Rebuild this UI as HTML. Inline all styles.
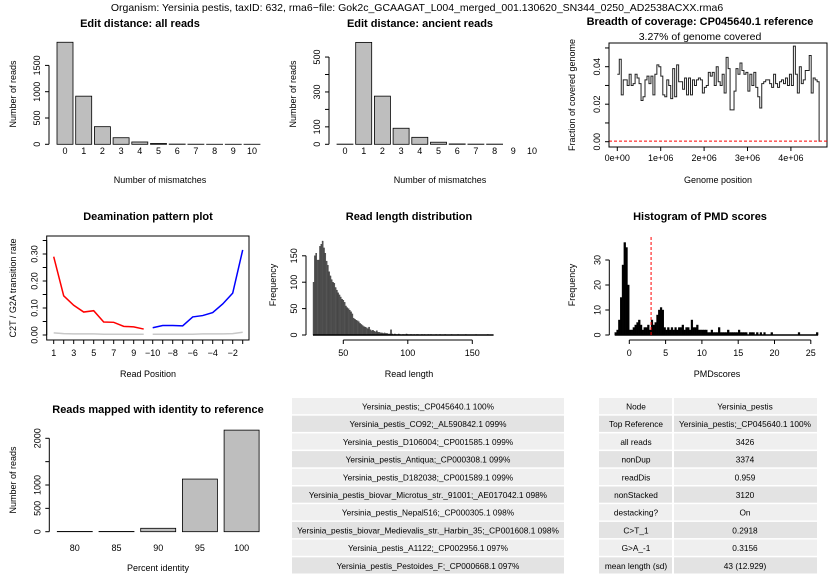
<!DOCTYPE html>
<html><head><meta charset="utf-8"><style>
body{margin:0;background:#fff;}
svg{display:block;font-family:"Liberation Sans",Arial,sans-serif;}
</style></head><body>
<svg id="chart" width="835" height="583" viewBox="0 0 835 583" xmlns="http://www.w3.org/2000/svg">
<rect x="0" y="0" width="835" height="583" fill="#fff"/>
<text x="417" y="11" font-size="10.5" text-anchor="middle" fill="#000">Organism: Yersinia pestis, taxID: 632, rma6−file: Gok2c_GCAAGAT_L004_merged_001.130620_SN344_0250_AD2538ACXX.rma6</text>
</svg>
<script>
// ---------- data ----------
const editAllCats = [0,1,2,3,4,5,6,7,8,9,10];
const editAllVals = [1940,915,335,125,44,15,4,2,1,1,1];
const editAllTicks = [0,500,1000,1500];
const editAncVals = [1,584,276,92,40,12,2,1,1,0,0];
const editAncTicks = [0,100,200,300,400,500];
const editAncLabels = [0,100,300,500];
const covVals = [0.036,0.044,0.025,0.033,0.033,0.030,0.036,0.030,0.031,0.036,0.034,0.031,0.022,0.024,0.033,0.035,0.031,0.035,0.025,0.036,0.041,0.040,0.035,0.025,0.024,0.033,0.030,0.023,0.039,0.024,0.041,0.032,0.032,0.028,0.034,0.025,0.034,0.025,0.033,0.030,0.033,0.034,0.033,0.026,0.029,0.030,0.037,0.035,0.037,0.030,0.040,0.032,0.030,0.036,0.026,0.045,0.039,0.017,0.017,0.027,0.039,0.036,0.042,0.038,0.036,0.037,0.027,0.036,0.030,0.037,0.029,0.024,0.018,0.031,0.032,0.033,0.033,0.031,0.029,0.036,0.031,0.029,0.032,0.033,0.031,0.034,0.030,0.036,0.030,0.051,0.036,0.026,0.040,0.031,0.033,0.038,0.038,0.046,0.026,0.034,0.033,0.032,0.000];
const covGenomeLen = 4650000;
const covXTicks = [0,1e6,2e6,3e6,4e6];
const covXLabels = ["0e+00","1e+06","2e+06","3e+06","4e+06"];
const covYTicks = [0,0.01,0.02,0.03,0.04,0.05];
const covYLabels = ["0.00","","0.02","","0.04",""];
const deamC2T = [0.29,0.145,0.11,0.085,0.09,0.048,0.047,0.032,0.030,0.022];
const deamG2A = [0.027,0.035,0.035,0.034,0.067,0.072,0.083,0.115,0.155,0.315];
const deamOtherF = [0.008,0.005,0.004,0.004,0.004,0.003,0.003,0.003,0.003,0.003];
const deamOtherR = [0.003,0.003,0.003,0.003,0.003,0.004,0.004,0.004,0.005,0.010];
const deamYTicks = [0,0.05,0.10,0.15,0.20,0.25,0.30,0.35];
const deamYLabels = ["0.00","","0.10","","0.20","","0.30",""];
const deamXLabels = ["1","","3","","5","","7","","9","","−10","","−8","","−6","","−4","","−2",""];
const rlStart = 27;
const rlCounts = [100,150,155,142,142,168,172,178,165,155,140,132,120,112,105,100,98,90,85,80,76,72,68,66,62,55,52,50,47,44,40,32,30,28,27,25,22,20,18,16,15,14,12,15,10,8,9,7,6,8,5,5,4,4,3,4,3,3,2,2,10,2,1,2,1,1,2,1,0,1,1,0,2,1,0,1,1,0,1,0,1,1,0,0,1,0,1,0,0,1,0,1,0,0,0,1,0,0,1,0,0,0,1,0,0,0,0,1,0,0,0,0,1,0,0,0,0,0,1,0,0,0,0,0,0,0,1,0,0,0,0,0,0,0,0,1,0,0,0,0];
const rlXTicks = [50,100,150];
const rlYTicks = [0,50,100,150];
const pmdStart = -2, pmdBin = 0.25;
const pmdCounts = [1,2,6,15,28,37,35,20,2,2,3,4,5,6,4,2,3,3,4,2,6,4,5,8,10,11,10,3,2,3,2,3,2,3,2,3,3,4,2,3,3,2,6,3,3,4,2,2,2,2,2,1,1,2,1,1,1,3,1,1,1,1,2,1,1,1,1,1,2,1,1,1,1,0,1,1,1,0,1,0,1,0,1,0,0,0,1,0,0,0,0,0,0,0,0,0,0,0,0,0,0,1,0,0,0,0,0,0,0,0,0,1];
const pmdXTicks = [0,5,10,15,20,25];
const pmdYTicks = [0,10,20,30];
const pmdThreshold = 3;
const idCats = [80,85,90,95,100];
const idVals = [5,5,73,1127,2175];
const idYTicks = [0,500,1000,1500,2000];
const idYLabels = ["0","500","1000","","2000"];
const refRows = ["Yersinia_pestis;_CP045640.1 100%","Yersinia_pestis_CO92;_AL590842.1 099%","Yersinia_pestis_D106004;_CP001585.1 099%","Yersinia_pestis_Antiqua;_CP000308.1 099%","Yersinia_pestis_D182038;_CP001589.1 099%","Yersinia_pestis_biovar_Microtus_str._91001;_AE017042.1 098%","Yersinia_pestis_Nepal516;_CP000305.1 098%","Yersinia_pestis_biovar_Medievalis_str._Harbin_35;_CP001608.1 098%","Yersinia_pestis_A1122;_CP002956.1 097%","Yersinia_pestis_Pestoides_F;_CP000668.1 097%"];
const statKeys = ["Node","Top Reference","all reads","nonDup","readDis","nonStacked","destacking?","C>T_1","G>A_-1","mean length (sd)"];
const statVals = ["Yersinia_pestis","Yersinia_pestis;_CP045640.1 100%","3426","3374","0.959","3120","On","0.2918","0.3156","43 (12.929)"];

// ---------- helpers ----------
const svg = document.getElementById('chart');
const NS = 'http://www.w3.org/2000/svg';
function mk(tag, attrs){ const e=document.createElementNS(NS,tag); for(const k in attrs) e.setAttribute(k,attrs[k]); svg.appendChild(e); return e; }
function txt(x,y,s,size,opts){ const e=mk('text',Object.assign({x:x,y:y,'font-size':size,'text-anchor':'middle',fill:'#000'},opts||{})); e.textContent=s; return e; }
function vtxt(x,y,s,size){ const e=mk('text',{x:0,y:0,'font-size':size,'text-anchor':'middle',fill:'#000',transform:`translate(${x},${y}) rotate(-90)`}); e.textContent=s; return e; }
function ln(x1,y1,x2,y2,st,w){ return mk('line',{x1:x1,y1:y1,x2:x2,y2:y2,stroke:st||'#000','stroke-width':w||1}); }
function yAxis(x, ticks, labels, ys){
  const a=ln(x,ys(ticks[0]),x,ys(ticks[ticks.length-1]));
  
  
  ticks.forEach((t,i)=>{ const tk=ln(x-4,ys(t),x,ys(t));  
    if(labels[i]!==""){ const l=vtxt(x-9,ys(t),labels[i],9);   } });
}
function xAxis(y, ticks, labels, xs, ly){
  const a=ln(xs(ticks[0]),y,xs(ticks[ticks.length-1]),y);
  
  
  ticks.forEach((t,i)=>{ const tk=ln(xs(t),y,xs(t),y+4);  
    if(labels[i]!==""){ const l=txt(xs(t),ly,labels[i],9);   } });
}
function title(x,y,s){ const t=txt(x,y,s,11,{'font-weight':'bold'});   return t; }
function ytitle(x,y,s){ const t=vtxt(x,y,s,9);   }
function xtitle(x,y,s){ const t=txt(x,y,s,9);   }

// ---------- Panel 1: edit distance all ----------
(function(){
  const y0=144.3, ppu=26.3/500, ys=v=>y0-v*ppu;
  title(140,27,'Edit distance: all reads');
  editAllCats.forEach((c,i)=>{
    const r=mk('rect',{x:57+i*18.7,y:ys(editAllVals[i]),width:16,height:editAllVals[i]*ppu,fill:'#bebebe',stroke:'#000','stroke-width':0.8});
    
    
    const l=txt(65+i*18.7,154,String(c),9);
    
    
  });
  yAxis(49,editAllTicks,editAllTicks.map(String),ys);
  ytitle(16,94,'Number of reads');
  xtitle(160,183,'Number of mismatches');
})();

// ---------- Panel 2: edit distance ancient ----------
(function(){
  const y0=144.3, ppu=17.45/100, ys=v=>y0-v*ppu;
  title(420,27,'Edit distance: ancient reads');
  editAllCats.forEach((c,i)=>{
    const r=mk('rect',{x:337+i*18.7,y:ys(editAncVals[i]),width:16,height:editAncVals[i]*ppu,fill:'#bebebe',stroke:'#000','stroke-width':0.8});
    
    
    const l=txt(345+i*18.7,154,String(c),9);
    
    
  });
  yAxis(329,editAncTicks,editAncTicks.map(t=>editAncLabels.includes(t)?String(t):""),ys);
  ytitle(296,94,'Number of reads');
  xtitle(440,183,'Number of mismatches');
})();

// ---------- Panel 3: coverage ----------
(function(){
  const xs=v=>617.3+v*43.4/1e6, ys=v=>141.7-v*1875;
  title(700,25,'Breadth of coverage: CP045640.1 reference');
  const st=txt(700,40,'3.27% of genome covered',10.5);  
  const box=mk('rect',{x:609,y:43,width:218,height:104,fill:'none',stroke:'#000','stroke-width':1});
  
  
  const bw=covGenomeLen/(covVals.length-1);
  let d='';
  covVals.forEach((v,i)=>{ const x1=xs(i*bw), x2=xs((i+1)*bw); if(i===covVals.length-1){ d+=`L${x1},${ys(v)}`; return; } d+=(i?'L':'M')+x1+','+ys(v)+'L'+x2+','+ys(v); });
  const p=mk('path',{d:d,fill:'none',stroke:'#222','stroke-width':1});
  
  
  const rl=ln(609,ys(0.0003),827,ys(0.0003),'#ff0000',1); rl.setAttribute('stroke-dasharray','3,2');
  
  
  xAxis(147,covXTicks,covXLabels,xs,161);
  yAxis(609,covYTicks,covYLabels,ys);
  ytitle(575,95,'Fraction of covered genome');
  xtitle(718,183,'Genome position');
})();

// ---------- Panel 4: deamination ----------
(function(){
  const ys=v=>335-v*270, xf=i=>53.7+i*10, xr=i=>152.7+i*10;
  title(148,220,'Deamination pattern plot');
  const box=mk('rect',{x:46.7,y:236,width:202.3,height:104,fill:'none',stroke:'#000','stroke-width':1});
  
  
  function poly(vals,xfn,col,w,name){ const p=mk('polyline',{points:vals.map((v,i)=>xfn(i)+','+ys(v)).join(' '),fill:'none',stroke:col,'stroke-width':w});   }
  poly(deamOtherF,xf,'#c8c8c8',1.5,'other-substitutions-5prime');
  poly(deamOtherR,xr,'#c8c8c8',1.5,'other-substitutions-3prime');
  poly(deamC2T,xf,'#ff0000',1.5,'c2t-line');
  poly(deamG2A,xr,'#0000ff',1.5,'g2a-line');
  const xt=[]; for(let i=0;i<10;i++) xt.push(xf(i)); for(let i=0;i<10;i++) xt.push(xr(i));
  const ax=ln(xt[0],340,xt[19],340);  
  xt.forEach((x,i)=>{ const tk=ln(x,340,x,344);  
    if(deamXLabels[i]!==""){ const l=txt(x,356,deamXLabels[i],9);   } });
  yAxis(46.7,deamYTicks,deamYLabels,ys);
  ytitle(16,288,'C2T / G2A transition rate');
  xtitle(148,377,'Read Position');
})();

// ---------- Panel 5: read length ----------
(function(){
  const xs=v=>343.3+(v-50)*1.29, ys=v=>335-v*26.4/50;
  title(409,220,'Read length distribution');
  rlCounts.forEach((c,i)=>{ if(c<=0) return; const L=rlStart+i;
    const r=mk('rect',{x:xs(L-0.5),y:ys(c),width:1.29,height:c*26.4/50,fill:'#555',stroke:'#333','stroke-width':0.3});
    
     });
  const base=ln(xs(rlStart-0.5),335,xs(rlStart+rlCounts.length-0.5),335,'#000',1.5);  
  xAxis(340,rlXTicks,rlXTicks.map(String),xs,356);
  yAxis(306,rlYTicks,rlYTicks.map(String),ys);
  ytitle(276,285,'Frequency');
  xtitle(409,377,'Read length');
})();

// ---------- Panel 6: PMD ----------
(function(){
  const xs=v=>629.3+v*7.26, ys=v=>335-v*2.5;
  title(700,220,'Histogram of PMD scores');
  pmdCounts.forEach((c,i)=>{ if(c<=0) return; const v=pmdStart+i*pmdBin;
    const r=mk('rect',{x:xs(v),y:ys(c),width:pmdBin*7.26,height:c*2.5,fill:'#000',stroke:'#000','stroke-width':0.4});
    
     });
  const base=ln(xs(pmdStart),335,xs(pmdStart+pmdCounts.length*pmdBin),335,'#000',1.5);  
  const th=ln(xs(pmdThreshold),237,xs(pmdThreshold),335,'#ff0000',1); th.setAttribute('stroke-dasharray','3,2');
  
  
  xAxis(340,pmdXTicks,pmdXTicks.map(String),xs,356);
  yAxis(609.3,pmdYTicks,pmdYTicks.map(String),ys);
  ytitle(575,285,'Frequency');
  xtitle(717,377,'PMDscores');
})();

// ---------- Panel 7: identity ----------
(function(){
  const y0=531.7, ppu=23.35/500, ys=v=>y0-v*ppu;
  title(158,413,'Reads mapped with identity to reference');
  idCats.forEach((c,i)=>{
    const r=mk('rect',{x:57.3+i*41.7,y:ys(idVals[i]),width:35,height:idVals[i]*ppu,fill:'#bebebe',stroke:'#000','stroke-width':0.8});
    
    
    const l=txt(74.8+i*41.7,551,String(c),9);
    
    
  });
  yAxis(49.3,idYTicks,idYLabels,ys);
  ytitle(16,480,'Number of reads');
  xtitle(158,571,'Percent identity');
})();

// ---------- Tables ----------
(function(){
  const top=398, rh=17.7;
  refRows.forEach((s,i)=>{
    const r=mk('rect',{x:292,y:top+i*rh,width:272,height:rh-1.5,fill:i%2?'#e3e3e3':'#efefef'});
    
    
    const t=txt(428,top+i*rh+11.5,s,8.3);
    
    
  });
  statKeys.forEach((k,i)=>{
    const r1=mk('rect',{x:599,y:top+i*rh,width:73,height:rh-1.5,fill:i%2?'#e3e3e3':'#efefef'});
    
    
    const r2=mk('rect',{x:674,y:top+i*rh,width:143,height:rh-1.5,fill:i%2?'#e3e3e3':'#efefef'});
    
    
    const t1=txt(636,top+i*rh+11.5,k,8.3);
    
    
    const t2=txt(745,top+i*rh+11.5,statVals[i],8.3);
    
    
  });
})();
</script>
</body></html>
